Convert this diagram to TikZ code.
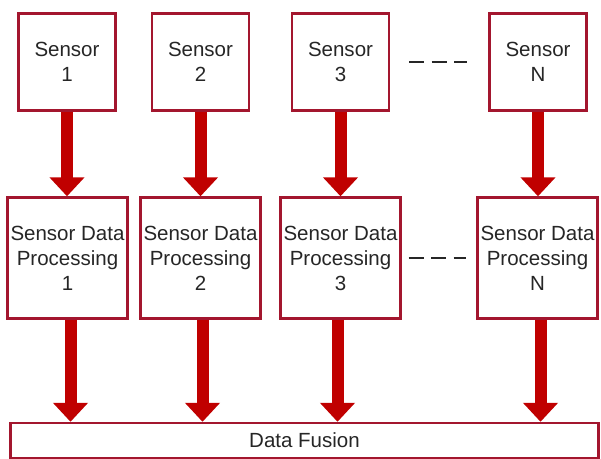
\documentclass[tikz,border=0pt]{standalone}
\usepackage{fontspec}
\setmainfont{Liberation Sans}
\usepackage{xcolor}
\usetikzlibrary{arrows.meta}
\definecolor{boxred}{HTML}{A3162E}
\definecolor{arrowred}{HTML}{C00000}
\definecolor{txt}{HTML}{262626}
\tikzset{
  sensorbox/.style={draw=boxred, line width=2.4pt, fill=white, minimum width=97pt,
    minimum height=97pt, align=center, text=txt, inner sep=0pt},
  procbox/.style={draw=boxred, line width=2.4pt, fill=white, minimum width=120pt,
    minimum height=121pt, align=center, text=txt, inner sep=0pt},
  fusionbox/.style={draw=boxred, line width=2.4pt, fill=white, minimum width=588pt,
    minimum height=35pt, text=txt, inner sep=0pt},
  flow/.style={line width=12pt, draw=arrowred, -{Triangle[width=34pt,length=19pt]}},
  dots/.style={line width=2pt, draw=txt, dash pattern=on 15pt off 7.5pt},
}

\begin{document}
\begin{tikzpicture}[x=1pt, y=-1pt, font=\fontsize{20.5}{25}\selectfont]
  \useasboundingbox (0,0) rectangle (601,458);

  % sensors
  \node[sensorbox] (s1) at (67,62)    {Sensor\\1};
  \node[sensorbox] (s2) at (200.5,62) {Sensor\\2};
  \node[sensorbox] (s3) at (340.5,62) {Sensor\\3};
  \node[sensorbox] (sN) at (538,62)   {Sensor\\N};

  % processing
  \node[procbox] (p1) at (67.5,258)  {Sensor Data\\Processing\\1};
  \node[procbox] (p2) at (200.5,258) {Sensor Data\\Processing\\2};
  \node[procbox] (p3) at (340.5,258) {Sensor Data\\Processing\\3};
  \node[procbox] (pN) at (537.5,258) {Sensor Data\\Processing\\N};

  % fusion (bottom edge runs off the page)
  \node[fusionbox] (fus) at (304.5,440.5) {Data Fusion};

  \draw[flow] (s1.south) -- (s1.south |- p1.north);
  \draw[flow] (s2.south) -- (s2.south |- p2.north);
  \draw[flow] (s3.south) -- (s3.south |- p3.north);
  \draw[flow] (sN.south) -- (sN.south |- pN.north);

  \draw[flow] ([xshift=3pt]p1.south) -- ([xshift=3pt]p1.south |- fus.north);
  \draw[flow] ([xshift=2pt]p2.south) -- ([xshift=2pt]p2.south |- fus.north);
  \draw[flow] ([xshift=-3pt]p3.south) -- ([xshift=-3pt]p3.south |- fus.north);
  \draw[flow] ([xshift=3pt]pN.south) -- ([xshift=3pt]pN.south |- fus.north);

  \draw[dots] ([xshift=19pt]s3.east) -- ([xshift=-21pt]sN.west);
  \draw[dots] ([xshift=7pt]p3.east) -- ([xshift=-10pt]pN.west);
\end{tikzpicture}
\end{document}
